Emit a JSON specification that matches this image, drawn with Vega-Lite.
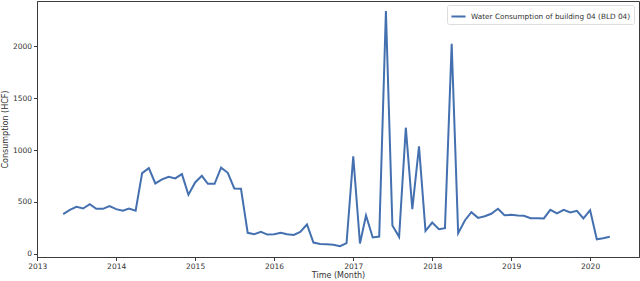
{
  "$schema": "https://vega.github.io/schema/vega-lite/v6.json",
  "width": 602,
  "height": 256,
  "autosize": "none",
  "padding": {"left": 37, "top": 1, "right": 1, "bottom": 24},
  "background": "white",
  "config": {
    "view": {"stroke": "#3a3a3a", "strokeWidth": 1},
    "font": "DejaVu Sans",
    "axis": {
      "grid": false,
      "domainColor": "#3a3a3a",
      "tickColor": "#3a3a3a",
      "labelColor": "#333333",
      "titleColor": "#333333",
      "labelFont": "DejaVu Sans",
      "titleFont": "DejaVu Sans",
      "labelFontSize": 7.5,
      "titleFontSize": 8,
      "titleFontWeight": "normal",
      "tickSize": 3.5,
      "labelPadding": 2,
      "labelFlush": false
    }
  },
  "data": {
    "values": [
      {"date": "2013-05-01", "v": 383, "s": "Water Consumption of building 04 (BLD 04)"},
      {"date": "2013-06-01", "v": 424, "s": "Water Consumption of building 04 (BLD 04)"},
      {"date": "2013-07-01", "v": 453, "s": "Water Consumption of building 04 (BLD 04)"},
      {"date": "2013-08-01", "v": 437, "s": "Water Consumption of building 04 (BLD 04)"},
      {"date": "2013-09-01", "v": 479, "s": "Water Consumption of building 04 (BLD 04)"},
      {"date": "2013-10-01", "v": 434, "s": "Water Consumption of building 04 (BLD 04)"},
      {"date": "2013-11-01", "v": 434, "s": "Water Consumption of building 04 (BLD 04)"},
      {"date": "2013-12-01", "v": 460, "s": "Water Consumption of building 04 (BLD 04)"},
      {"date": "2014-01-01", "v": 431, "s": "Water Consumption of building 04 (BLD 04)"},
      {"date": "2014-02-01", "v": 415, "s": "Water Consumption of building 04 (BLD 04)"},
      {"date": "2014-03-01", "v": 437, "s": "Water Consumption of building 04 (BLD 04)"},
      {"date": "2014-04-01", "v": 415, "s": "Water Consumption of building 04 (BLD 04)"},
      {"date": "2014-05-01", "v": 778, "s": "Water Consumption of building 04 (BLD 04)"},
      {"date": "2014-06-01", "v": 826, "s": "Water Consumption of building 04 (BLD 04)"},
      {"date": "2014-07-01", "v": 678, "s": "Water Consumption of building 04 (BLD 04)"},
      {"date": "2014-08-01", "v": 717, "s": "Water Consumption of building 04 (BLD 04)"},
      {"date": "2014-09-01", "v": 743, "s": "Water Consumption of building 04 (BLD 04)"},
      {"date": "2014-10-01", "v": 727, "s": "Water Consumption of building 04 (BLD 04)"},
      {"date": "2014-11-01", "v": 768, "s": "Water Consumption of building 04 (BLD 04)"},
      {"date": "2014-12-01", "v": 569, "s": "Water Consumption of building 04 (BLD 04)"},
      {"date": "2015-01-01", "v": 688, "s": "Water Consumption of building 04 (BLD 04)"},
      {"date": "2015-02-01", "v": 752, "s": "Water Consumption of building 04 (BLD 04)"},
      {"date": "2015-03-01", "v": 675, "s": "Water Consumption of building 04 (BLD 04)"},
      {"date": "2015-04-01", "v": 675, "s": "Water Consumption of building 04 (BLD 04)"},
      {"date": "2015-05-01", "v": 830, "s": "Water Consumption of building 04 (BLD 04)"},
      {"date": "2015-06-01", "v": 781, "s": "Water Consumption of building 04 (BLD 04)"},
      {"date": "2015-07-01", "v": 630, "s": "Water Consumption of building 04 (BLD 04)"},
      {"date": "2015-08-01", "v": 627, "s": "Water Consumption of building 04 (BLD 04)"},
      {"date": "2015-09-01", "v": 203, "s": "Water Consumption of building 04 (BLD 04)"},
      {"date": "2015-10-01", "v": 190, "s": "Water Consumption of building 04 (BLD 04)"},
      {"date": "2015-11-01", "v": 212, "s": "Water Consumption of building 04 (BLD 04)"},
      {"date": "2015-12-01", "v": 186, "s": "Water Consumption of building 04 (BLD 04)"},
      {"date": "2016-01-01", "v": 190, "s": "Water Consumption of building 04 (BLD 04)"},
      {"date": "2016-02-01", "v": 203, "s": "Water Consumption of building 04 (BLD 04)"},
      {"date": "2016-03-01", "v": 190, "s": "Water Consumption of building 04 (BLD 04)"},
      {"date": "2016-04-01", "v": 183, "s": "Water Consumption of building 04 (BLD 04)"},
      {"date": "2016-05-01", "v": 212, "s": "Water Consumption of building 04 (BLD 04)"},
      {"date": "2016-06-01", "v": 283, "s": "Water Consumption of building 04 (BLD 04)"},
      {"date": "2016-07-01", "v": 109, "s": "Water Consumption of building 04 (BLD 04)"},
      {"date": "2016-08-01", "v": 96, "s": "Water Consumption of building 04 (BLD 04)"},
      {"date": "2016-09-01", "v": 93, "s": "Water Consumption of building 04 (BLD 04)"},
      {"date": "2016-10-01", "v": 87, "s": "Water Consumption of building 04 (BLD 04)"},
      {"date": "2016-11-01", "v": 74, "s": "Water Consumption of building 04 (BLD 04)"},
      {"date": "2016-12-01", "v": 103, "s": "Water Consumption of building 04 (BLD 04)"},
      {"date": "2017-01-01", "v": 939, "s": "Water Consumption of building 04 (BLD 04)"},
      {"date": "2017-02-01", "v": 100, "s": "Water Consumption of building 04 (BLD 04)"},
      {"date": "2017-03-01", "v": 370, "s": "Water Consumption of building 04 (BLD 04)"},
      {"date": "2017-04-01", "v": 158, "s": "Water Consumption of building 04 (BLD 04)"},
      {"date": "2017-05-01", "v": 167, "s": "Water Consumption of building 04 (BLD 04)"},
      {"date": "2017-06-01", "v": 2338, "s": "Water Consumption of building 04 (BLD 04)"},
      {"date": "2017-07-01", "v": 273, "s": "Water Consumption of building 04 (BLD 04)"},
      {"date": "2017-08-01", "v": 164, "s": "Water Consumption of building 04 (BLD 04)"},
      {"date": "2017-09-01", "v": 1215, "s": "Water Consumption of building 04 (BLD 04)"},
      {"date": "2017-10-01", "v": 431, "s": "Water Consumption of building 04 (BLD 04)"},
      {"date": "2017-11-01", "v": 1035, "s": "Water Consumption of building 04 (BLD 04)"},
      {"date": "2017-12-01", "v": 222, "s": "Water Consumption of building 04 (BLD 04)"},
      {"date": "2018-01-01", "v": 302, "s": "Water Consumption of building 04 (BLD 04)"},
      {"date": "2018-02-01", "v": 238, "s": "Water Consumption of building 04 (BLD 04)"},
      {"date": "2018-03-01", "v": 248, "s": "Water Consumption of building 04 (BLD 04)"},
      {"date": "2018-04-01", "v": 2022, "s": "Water Consumption of building 04 (BLD 04)"},
      {"date": "2018-05-01", "v": 199, "s": "Water Consumption of building 04 (BLD 04)"},
      {"date": "2018-06-01", "v": 322, "s": "Water Consumption of building 04 (BLD 04)"},
      {"date": "2018-07-01", "v": 402, "s": "Water Consumption of building 04 (BLD 04)"},
      {"date": "2018-08-01", "v": 347, "s": "Water Consumption of building 04 (BLD 04)"},
      {"date": "2018-09-01", "v": 363, "s": "Water Consumption of building 04 (BLD 04)"},
      {"date": "2018-10-01", "v": 386, "s": "Water Consumption of building 04 (BLD 04)"},
      {"date": "2018-11-01", "v": 434, "s": "Water Consumption of building 04 (BLD 04)"},
      {"date": "2018-12-01", "v": 373, "s": "Water Consumption of building 04 (BLD 04)"},
      {"date": "2019-01-01", "v": 376, "s": "Water Consumption of building 04 (BLD 04)"},
      {"date": "2019-02-01", "v": 370, "s": "Water Consumption of building 04 (BLD 04)"},
      {"date": "2019-03-01", "v": 367, "s": "Water Consumption of building 04 (BLD 04)"},
      {"date": "2019-04-01", "v": 344, "s": "Water Consumption of building 04 (BLD 04)"},
      {"date": "2019-05-01", "v": 344, "s": "Water Consumption of building 04 (BLD 04)"},
      {"date": "2019-06-01", "v": 341, "s": "Water Consumption of building 04 (BLD 04)"},
      {"date": "2019-07-01", "v": 424, "s": "Water Consumption of building 04 (BLD 04)"},
      {"date": "2019-08-01", "v": 389, "s": "Water Consumption of building 04 (BLD 04)"},
      {"date": "2019-09-01", "v": 424, "s": "Water Consumption of building 04 (BLD 04)"},
      {"date": "2019-10-01", "v": 399, "s": "Water Consumption of building 04 (BLD 04)"},
      {"date": "2019-11-01", "v": 415, "s": "Water Consumption of building 04 (BLD 04)"},
      {"date": "2019-12-01", "v": 341, "s": "Water Consumption of building 04 (BLD 04)"},
      {"date": "2020-01-01", "v": 421, "s": "Water Consumption of building 04 (BLD 04)"},
      {"date": "2020-02-01", "v": 141, "s": "Water Consumption of building 04 (BLD 04)"},
      {"date": "2020-03-01", "v": 151, "s": "Water Consumption of building 04 (BLD 04)"},
      {"date": "2020-04-01", "v": 164, "s": "Water Consumption of building 04 (BLD 04)"}
    ]
  },
  "mark": {"type": "line", "strokeWidth": 2, "interpolate": "linear"},
  "encoding": {
    "x": {
      "field": "date",
      "type": "temporal",
      "title": "Time (Month)",
      "scale": {"domain": ["2012-12-31", "2020-08-14"], "nice": false},
      "axis": {"format": "%Y", "tickCount": {"interval": "year", "step": 1}, "titlePadding": 1}
    },
    "y": {
      "field": "v",
      "type": "quantitative",
      "title": "Consumption (HCF)",
      "scale": {"domain": [-30, 2435], "nice": false, "zero": false},
      "axis": {
        "values": [0, 500, 1000, 1500, 2000],
        "format": "d",
        "titleX": -36,
        "titleY": 128,
        "titleAngle": -90,
        "titleAlign": "center",
        "titleBaseline": "top"
      }
    },
    "color": {
      "field": "s",
      "type": "nominal",
      "scale": {"range": ["#4470b0"]},
      "legend": {
        "title": null,
        "orient": "none",
        "legendX": 410,
        "legendY": 4,
        "symbolType": "stroke",
        "symbolSize": 200,
        "symbolStrokeWidth": 2,
        "labelFontSize": 7.3,
        "labelLimit": 0,
        "labelFont": "DejaVu Sans",
        "labelColor": "#333333",
        "strokeColor": "#dddddd",
        "fillColor": "white",
        "padding": 3,
        "cornerRadius": 2
      }
    }
  }
}
